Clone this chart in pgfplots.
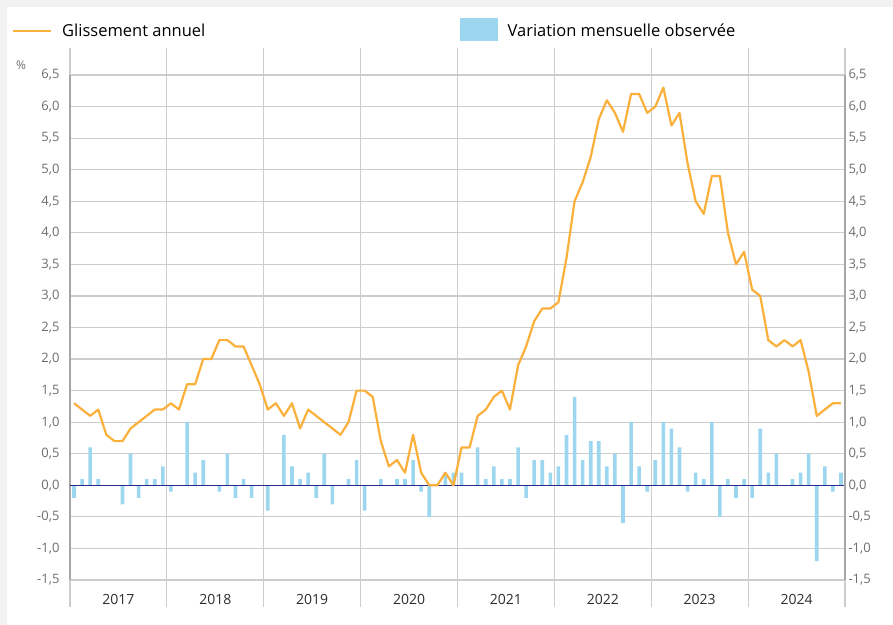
\documentclass[border=0pt]{standalone}
\usepackage{pgfplots}
\usepackage{pgfplotstable}
\pgfplotsset{compat=1.18}
\usepackage{fontspec}
\setmainfont{Open Sans}
\definecolor{lineorange}{HTML}{FBB03B}
\definecolor{barblue}{HTML}{9DD6EF}
\definecolor{zeronavy}{HTML}{2A2A8A}
\definecolor{gridgray}{HTML}{CDCDCD}
\definecolor{axisgray}{HTML}{A6A6A6}
\definecolor{labelgray}{HTML}{6E6E6E}
\definecolor{bggray}{HTML}{F2F2F2}
\definecolor{yeartext}{HTML}{2E2E2E}

\pgfplotstableread{
idx line bar
0 1.3 -0.2
1 1.2 0.1
2 1.1 0.6
3 1.2 0.1
4 0.8 0.0
5 0.7 0.0
6 0.7 -0.3
7 0.9 0.5
8 1.0 -0.2
9 1.1 0.1
10 1.2 0.1
11 1.2 0.3
12 1.3 -0.1
13 1.2 0.0
14 1.6 1.0
15 1.6 0.2
16 2.0 0.4
17 2.0 0.0
18 2.3 -0.1
19 2.3 0.5
20 2.2 -0.2
21 2.2 0.1
22 1.9 -0.2
23 1.6 0.0
24 1.2 -0.4
25 1.3 0.0
26 1.1 0.8
27 1.3 0.3
28 0.9 0.1
29 1.2 0.2
30 1.1 -0.2
31 1.0 0.5
32 0.9 -0.3
33 0.8 0.0
34 1.0 0.1
35 1.5 0.4
36 1.5 -0.4
37 1.4 0.0
38 0.7 0.1
39 0.3 0.0
40 0.4 0.1
41 0.2 0.1
42 0.8 0.4
43 0.2 -0.1
44 0.0 -0.5
45 0.0 0.0
46 0.2 0.2
47 0.0 0.2
48 0.6 0.2
49 0.6 0.0
50 1.1 0.6
51 1.2 0.1
52 1.4 0.3
53 1.5 0.1
54 1.2 0.1
55 1.9 0.6
56 2.2 -0.2
57 2.6 0.4
58 2.8 0.4
59 2.8 0.2
60 2.9 0.3
61 3.6 0.8
62 4.5 1.4
63 4.8 0.4
64 5.2 0.7
65 5.8 0.7
66 6.1 0.3
67 5.9 0.5
68 5.6 -0.6
69 6.2 1.0
70 6.2 0.3
71 5.9 -0.1
72 6.0 0.4
73 6.3 1.0
74 5.7 0.9
75 5.9 0.6
76 5.1 -0.1
77 4.5 0.2
78 4.3 0.1
79 4.9 1.0
80 4.9 -0.5
81 4.0 0.1
82 3.5 -0.2
83 3.7 0.1
84 3.1 -0.2
85 3.0 0.9
86 2.3 0.2
87 2.2 0.5
88 2.3 0.0
89 2.2 0.1
90 2.3 0.2
91 1.8 0.5
92 1.1 -1.2
93 1.2 0.3
94 1.3 -0.1
95 1.3 0.2
}\data

\begin{document}
\begin{tikzpicture}
\fill[bggray] (-70bp,-45bp) rectangle (823bp,580bp);
\fill[white] (-63bp,-45bp) rectangle (823bp,573bp);
\path[use as bounding box] (-70bp,-45bp) rectangle (823bp,580bp);
\begin{axis}[
  at={(0,0)}, anchor=south west,
  scale only axis, width=775bp, height=505bp,
  xmin=-0.5, xmax=95.5, ymin=-1.5, ymax=6.5,
  separate axis lines,
  x axis line style={draw=none},
  y axis line style={draw=axisgray, line width=1.3bp},
  axis line style={-},
  xtick={-0.5,11.5,23.5,35.5,47.5,59.5,71.5,83.5,95.5},
  xticklabels={},
  tick align=outside,
  xtick style={draw=gridgray, line width=1.2bp},
  major tick length=27bp,
  extra x ticks={5.5,17.5,29.5,41.5,53.5,65.5,77.5,89.5},
  extra x tick labels={2017,2018,2019,2020,2021,2022,2023,2024},
  extra x tick style={xmajorgrids=false, major tick length=0pt,
     xtick style={draw=none},
     xticklabel style={anchor=base, yshift=-24bp, text=yeartext,
        font=\fontsize{14bp}{16bp}\selectfont}},
  ytick={-1.5,-1,...,6.5},
  ytick style={draw=none},
  grid=major,
  grid style={draw=gridgray, line width=1.2bp},
  /pgf/number format/assume math mode=true,
  yticklabel style={/pgf/number format/.cd, fixed, fixed zerofill, precision=1, use comma, /tikz/.cd,
     text=labelgray, font=\fontsize{13bp}{15bp}\selectfont, xshift=20bp},
  legend columns=2,
  legend style={at={(axis description cs:-0.0748,1.091)}, anchor=west,
     draw=none, fill=none, inner sep=0pt, outer sep=0pt,
     font=\fontsize{16.5bp}{18bp}\selectfont,
     nodes={inner sep=0pt, outer sep=0pt},
     /tikz/every odd column/.append style={column sep=10bp},
     /tikz/every even column/.append style={column sep=0pt}},
  legend cell align=left,
]
\addplot[ybar, bar width=3.6bp, bar shift=0pt, fill=barblue, draw=none, forget plot]
  table[x=idx, y=bar] {\data};
\addplot[zeronavy, line width=1.6bp, forget plot] coordinates {(-0.5,0) (95.5,0)};
\addplot[lineorange, line width=2.2bp, line join=round, forget plot]
  table[x=idx, y=line] {\data};
\addlegendimage{legend image code/.code={\draw[lineorange, line width=2.2bp] (0bp,0bp) -- (38bp,0bp);}}
\addlegendentry{\makebox[398bp][l]{Glissement annuel}}
\addlegendimage{legend image code/.code={\fill[barblue] (0bp,-9bp) rectangle (37bp,13bp);}}
\addlegendentry{Variation mensuelle observée}
\end{axis}
\begin{axis}[
  at={(0,0)}, anchor=south west,
  scale only axis, width=775bp, height=505bp,
  xmin=-0.5, xmax=95.5, ymin=-1.5, ymax=6.5,
  axis x line=none,
  axis y line*=right,
  y axis line style={draw=axisgray, line width=1.3bp, -},
  ytick={-1.5,-1,...,6.5},
  ytick style={draw=none},
  /pgf/number format/assume math mode=true,
  yticklabel style={/pgf/number format/.cd, fixed, fixed zerofill, precision=1, use comma, /tikz/.cd,
     text=labelgray, font=\fontsize{13bp}{15bp}\selectfont},
]
\addplot[draw=none, forget plot] coordinates {(0,0)};
\end{axis}
\node[text=labelgray, font=\fontsize{12bp}{14bp}\selectfont] at (-49bp,515bp) {\%};
\end{tikzpicture}
\end{document}
